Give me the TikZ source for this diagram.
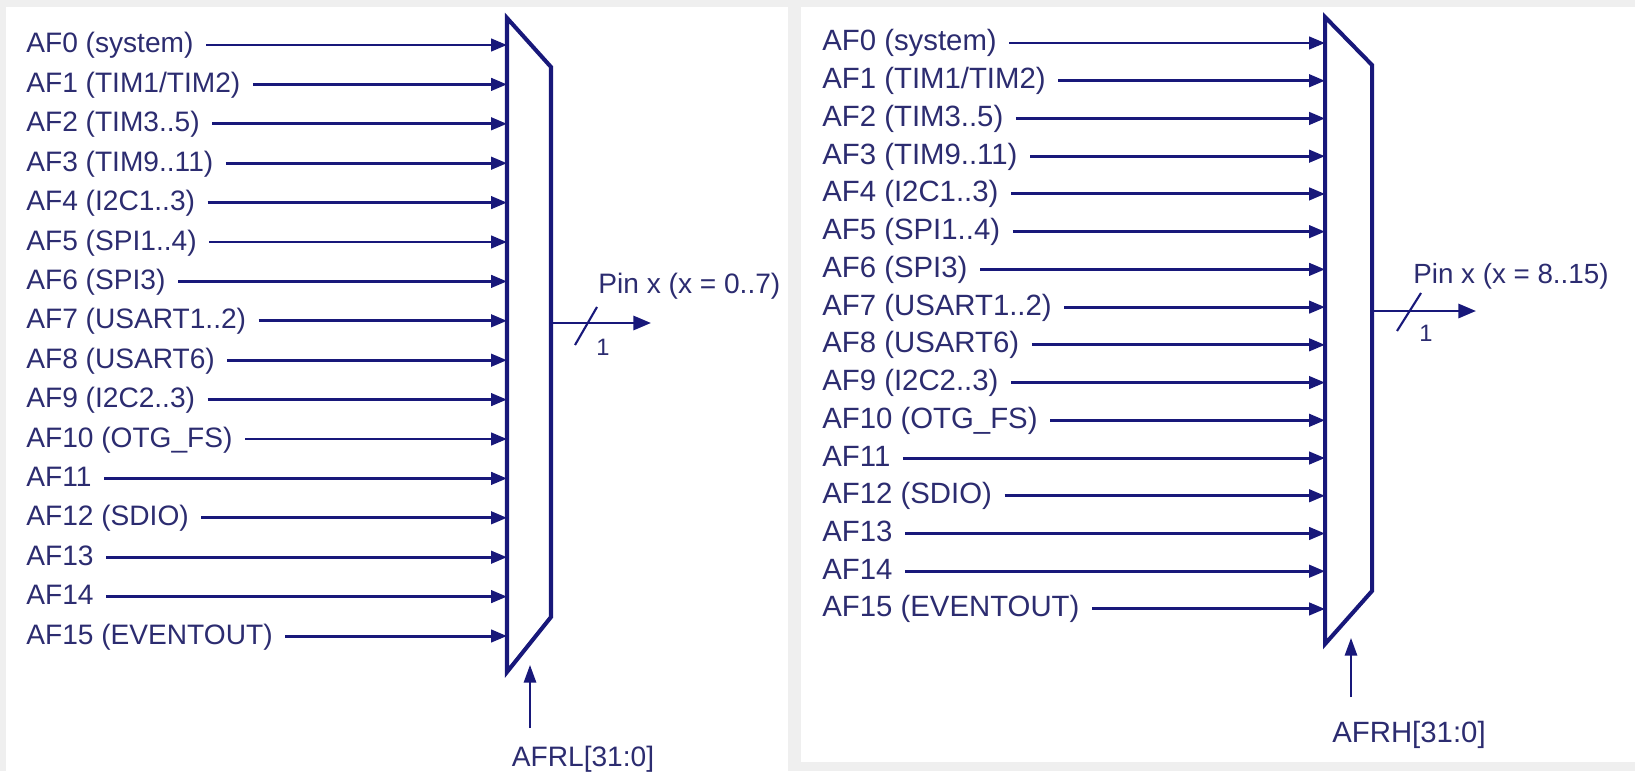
\documentclass[tikz,border=0pt]{standalone}
\usepackage{fontspec}
\setmainfont{Liberation Sans}
\usetikzlibrary{arrows.meta}
\definecolor{muxblue}{RGB}{24,24,122}
\definecolor{txtblue}{RGB}{44,44,112}
\definecolor{pagegray}{RGB}{239,239,239}

\begin{document}
\begin{tikzpicture}[x=0.02cm,y=-0.02cm,
  lab/.style={anchor=base west,inner sep=0pt,text=txtblue,font=\fontsize{16pt}{19pt}\selectfont},
  labh/.style={lab,font=\fontsize{16.7pt}{19pt}\selectfont},
  one/.style={inner sep=0pt,text=txtblue,font=\fontsize{13.5pt}{15pt}\selectfont},
  sig/.style={draw=muxblue,line width=1.7pt,-{Triangle[length=9pt,width=7pt]}},
  mux/.style={draw=muxblue,line width=2.3pt,fill=white,line join=miter},
  ctl/.style={draw=muxblue,line width=1.1pt,-{Triangle[length=10pt,width=7pt]}},
  outp/.style={draw=muxblue,line width=1.5pt,-{Triangle[length=10pt,width=8pt]}},
  tick/.style={draw=muxblue,line width=1.2pt}]
% page and the two panels
\fill[pagegray] (0,0) rectangle (1635,771);
\fill[white] (6,7) rectangle (788,771);
\fill[white] (801,7) rectangle (1635,762);

% left mux, pins 0..7
\draw[mux] (507,18) -- (551,67) -- (551,617) -- (507,672) -- cycle;
\foreach \lbl [count=\i from 0] in {{AF0 (system)},{AF1 (TIM1/TIM2)},{AF2 (TIM3..5)},{AF3 (TIM9..11)},
    {AF4 (I2C1..3)},{AF5 (SPI1..4)},{AF6 (SPI3)},{AF7 (USART1..2)},{AF8 (USART6)},{AF9 (I2C2..3)},
    {AF10 (OTG\_FS)},{AF11},{AF12 (SDIO)},{AF13},{AF14},{AF15 (EVENTOUT)}}{
  \pgfmathsetmacro\yy{45+39.4*\i}
  \coordinate (lin\i) at (507,\yy);
  \node[lab] (llab\i) at (26,\yy+8) {\lbl};
  \draw[sig] ([xshift=7pt]llab\i.east |- lin\i) -- (lin\i);
}
\coordinate (lout) at (551,323);
\coordinate (lpin) at (651,323);
\draw[outp] (lout) -- (lpin);
\draw[tick] (575,345) -- (597,307);
\node[lab] (lpinlab) at (598,293) {Pin x (x = 0..7)};
\node[one] (lone) at (603,347) {1};
\coordinate (lctl) at (530,728);
\coordinate (lsel) at (530,665);
\draw[ctl] (lctl) -- (lsel);
\node[lab,anchor=base] (lreg) at (583,766) {AFRL[31:0]};

% right mux, pins 8..15
\draw[mux] (1325,17) -- (1372,65) -- (1372,591) -- (1325,644) -- cycle;
\foreach \lbl [count=\i from 0] in {{AF0 (system)},{AF1 (TIM1/TIM2)},{AF2 (TIM3..5)},{AF3 (TIM9..11)},
    {AF4 (I2C1..3)},{AF5 (SPI1..4)},{AF6 (SPI3)},{AF7 (USART1..2)},{AF8 (USART6)},{AF9 (I2C2..3)},
    {AF10 (OTG\_FS)},{AF11},{AF12 (SDIO)},{AF13},{AF14},{AF15 (EVENTOUT)}}{
  \pgfmathsetmacro\yy{43+37.73*\i}
  \coordinate (rin\i) at (1325,\yy);
  \node[labh] (rlab\i) at (822,\yy+8) {\lbl};
  \draw[sig] ([xshift=7pt]rlab\i.east |- rin\i) -- (rin\i);
}
\coordinate (rout) at (1372,311);
\coordinate (rpin) at (1476,311);
\draw[outp] (rout) -- (rpin);
\draw[tick] (1397,331) -- (1421,293);
\node[lab,font=\fontsize{15.8pt}{19pt}\selectfont] (rpinlab) at (1413,283) {Pin x (x = 8..15)};
\node[one] (rone) at (1426,333) {1};
\coordinate (rctl) at (1351,697);
\coordinate (rsel) at (1351,638);
\draw[ctl] (rctl) -- (rsel);
\node[labh,anchor=base] (rreg) at (1409,742) {AFRH[31:0]};
\end{tikzpicture}
\end{document}
